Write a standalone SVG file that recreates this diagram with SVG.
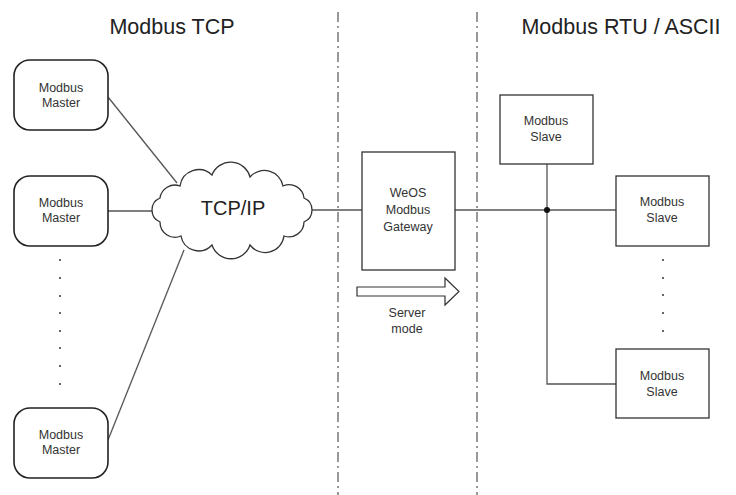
<svg xmlns="http://www.w3.org/2000/svg" width="736" height="495" viewBox="0 0 736 495">
<style>
text{font-family:"Liberation Sans",Arial,sans-serif;fill:#333;text-anchor:middle}
.t{font-size:12.5px}
.h{font-size:21.5px;fill:#222}
.m{fill:#fff;stroke:#222;stroke-width:1.6}
.b{fill:#fff;stroke:#333;stroke-width:1.3}
.c{fill:none;stroke:#555;stroke-width:1.3}
.d{fill:none;stroke:#555;stroke-width:1.2;stroke-dasharray:10 4 2 4}
.dot{fill:#444}
</style>
<rect width="736" height="495" fill="#fff"/>
<text class="h" x="172" y="34">Modbus TCP</text>
<text class="h" x="621" y="34">Modbus RTU / ASCII</text>
<line class="d" x1="338" y1="12" x2="338" y2="495"/>
<line class="d" x1="477" y1="12" x2="477" y2="495"/>
<g id="connectors">
<line class="c" x1="108" y1="97" x2="177" y2="183"/>
<line class="c" x1="108" y1="211" x2="153" y2="211"/>
<line class="c" x1="108" y1="440" x2="184" y2="250"/>
<line class="c" x1="312" y1="210" x2="362" y2="210"/>
<line class="c" x1="455" y1="210" x2="616" y2="210"/>
<polyline class="c" points="547,164 547,384 616,384"/>
<circle cx="547" cy="210" r="3" fill="#111"/>
</g>
<g id="master1"><rect class="m" x="14" y="60" width="94" height="70" rx="16"/><text class="t" x="61" y="92">Modbus</text><text class="t" x="61" y="107">Master</text></g>
<g id="master2"><rect class="m" x="14" y="176" width="94" height="70" rx="16"/><text class="t" x="61" y="207">Modbus</text><text class="t" x="61" y="222">Master</text></g>
<g id="master3"><rect class="m" x="14" y="408" width="94" height="70" rx="16"/><text class="t" x="61" y="439">Modbus</text><text class="t" x="61" y="454">Master</text></g>
<g id="dots-left" class="dot"><circle cx="60" cy="260" r="1.1"/><circle cx="60" cy="278" r="1.1"/><circle cx="60" cy="296" r="1.1"/><circle cx="60" cy="313" r="1.1"/><circle cx="60" cy="331" r="1.1"/><circle cx="60" cy="348" r="1.1"/><circle cx="60" cy="366" r="1.1"/><circle cx="60" cy="384" r="1.1"/></g>
<g id="cloud">
<path fill="#fff" stroke="#333" stroke-width="1.3" d="M160,222 A13,13 0 0 1 160,198 A15,15 0 0 1 180,186 A19,19 0 0 1 212,175 A20,20 0 0 1 250,177 A19,19 0 0 1 283,186 A15,15 0 0 1 304,198 A13,13 0 0 1 304,222 A15,15 0 0 1 284,236 A19,19 0 0 1 250,245 A20,20 0 0 1 212,245 A18,18 0 0 1 181,236 A15,15 0 0 1 160,222 Z"/>
<text x="233" y="215" style="font-size:20px;fill:#222">TCP/IP</text>
</g>
<g id="gateway"><rect class="b" x="362" y="152" width="93" height="118"/><text class="t" x="408" y="197">WeOS</text><text class="t" x="408" y="214">Modbus</text><text class="t" x="408" y="231">Gateway</text></g>
<g id="server-mode"><path fill="#fff" stroke="#333" stroke-width="1.2" d="M357,287 H445 V278 L459,291.5 L445,305 V296 H357 Z"/><text class="t" x="407" y="317">Server</text><text class="t" x="407" y="333">mode</text></g>
<g id="slave1"><rect class="b" x="500" y="95" width="93" height="69"/><text class="t" x="546" y="125">Modbus</text><text class="t" x="546" y="141">Slave</text></g>
<g id="slave2"><rect class="b" x="616" y="176" width="93" height="70"/><text class="t" x="662" y="206">Modbus</text><text class="t" x="662" y="222">Slave</text></g>
<g id="slave3"><rect class="b" x="616" y="349" width="93" height="69"/><text class="t" x="662" y="380">Modbus</text><text class="t" x="662" y="396">Slave</text></g>
<g id="dots-right" class="dot"><circle cx="663" cy="260" r="1.1"/><circle cx="663" cy="278" r="1.1"/><circle cx="663" cy="295" r="1.1"/><circle cx="663" cy="313" r="1.1"/><circle cx="663" cy="331" r="1.1"/></g>
</svg>
